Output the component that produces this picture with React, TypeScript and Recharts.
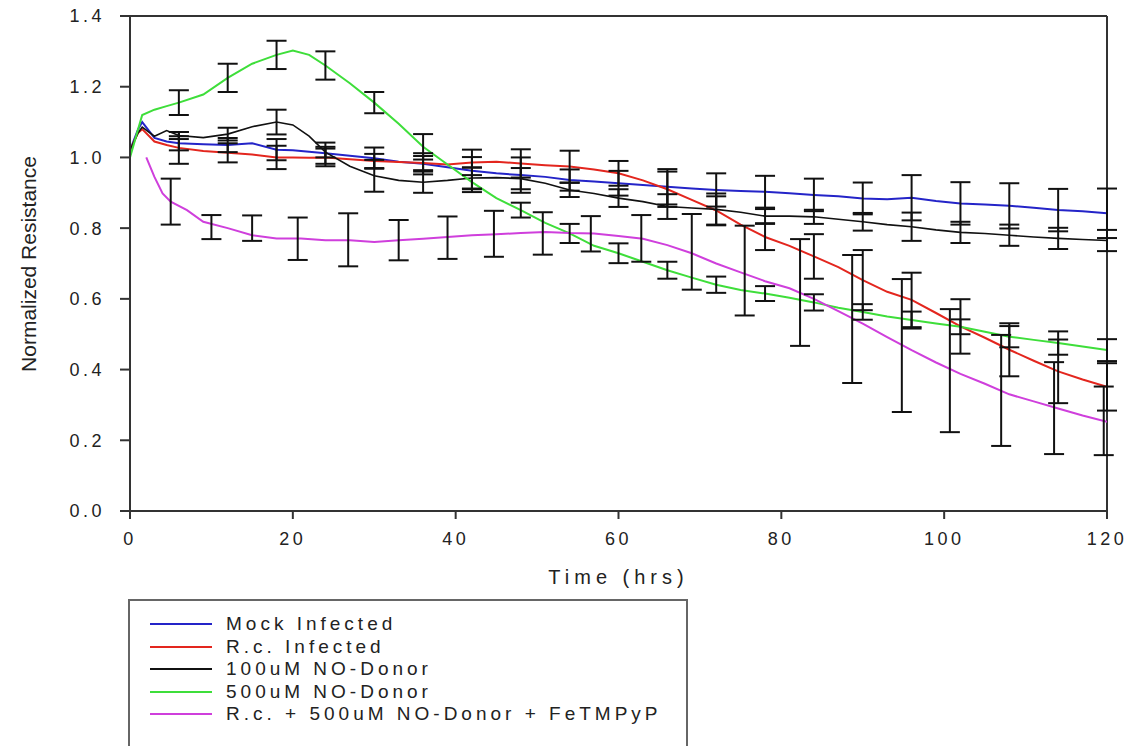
import { ComposedChart, Line, Scatter, ErrorBar, XAxis, YAxis, ReferenceLine, Label } from 'recharts';

const FONT = '"Liberation Sans", Arial, Helvetica, sans-serif';

// time grid (hrs) shared by the first four traces
const hours = [0, 1, 1.5, 3, 4.5, 6, 9, 12, 15, 18, 20, 22, 24, 27, 30, 33, 36, 39, 42, 45, 48, 51, 54, 57, 60,
  63, 66, 69, 72, 75, 78, 81, 84, 87, 90, 93, 96, 99, 102, 105, 108, 111, 114, 117, 120];

const mock = [1.02, 1.08, 1.1, 1.055, 1.045, 1.04, 1.037, 1.035, 1.04, 1.022, 1.02, 1.016, 1.012, 1.005, 0.998,
  0.988, 0.982, 0.972, 0.962, 0.955, 0.95, 0.945, 0.936, 0.932, 0.927, 0.922, 0.917, 0.912, 0.908, 0.905, 0.903,
  0.899, 0.894, 0.89, 0.884, 0.882, 0.886, 0.877, 0.87, 0.867, 0.863, 0.858, 0.851, 0.848, 0.842];

const rcInfected = [1.02, 1.07, 1.08, 1.045, 1.035, 1.027, 1.018, 1.013, 1.008, 1.0, 1.0, 0.999, 1.0, 0.995, 0.99,
  0.987, 0.984, 0.98, 0.986, 0.988, 0.983, 0.978, 0.974, 0.966, 0.955, 0.935, 0.91, 0.88, 0.85, 0.81, 0.775,
  0.75, 0.72, 0.69, 0.653, 0.62, 0.597, 0.56, 0.522, 0.49, 0.456, 0.425, 0.395, 0.372, 0.351];

const noDonor100 = [1.02, 1.07, 1.086, 1.06, 1.076, 1.062, 1.056, 1.066, 1.087, 1.1, 1.092, 1.06, 1.015, 0.975,
  0.948, 0.935, 0.93, 0.935, 0.942, 0.943, 0.94, 0.927, 0.908, 0.898, 0.885, 0.875, 0.861, 0.857, 0.853, 0.845,
  0.834, 0.834, 0.832, 0.825, 0.818, 0.81, 0.804, 0.795, 0.788, 0.785, 0.78, 0.775, 0.771, 0.768, 0.765];

const noDonor500 = [1.0, 1.08, 1.12, 1.135, 1.145, 1.155, 1.178, 1.225, 1.265, 1.29, 1.302, 1.29, 1.26, 1.21,
  1.155, 1.095, 1.03, 0.98, 0.93, 0.885, 0.851, 0.815, 0.785, 0.75, 0.729, 0.705, 0.681, 0.66, 0.64, 0.625,
  0.615, 0.603, 0.59, 0.575, 0.563, 0.55, 0.54, 0.53, 0.521, 0.507, 0.493, 0.484, 0.475, 0.465, 0.455];

// FeTMPyP trace starts a little later
const fetHours = [2, 3, 4, 5, 7, 9, 12, 15, 18, 21, 24, 27, 30, 33, 36, 39, 42, 45, 48, 51, 54, 57, 60, 63, 66,
  69, 72, 75, 78, 81, 84, 87, 90, 93, 96, 99, 102, 105, 108, 111, 114, 117, 120];
const fetmpyp = [1.0, 0.945, 0.898, 0.875, 0.851, 0.818, 0.8, 0.78, 0.771, 0.771, 0.766, 0.766, 0.761, 0.766,
  0.77, 0.775, 0.78, 0.783, 0.786, 0.789, 0.786, 0.785, 0.778, 0.77, 0.752, 0.729, 0.7, 0.675, 0.65, 0.63, 0.6,
  0.565, 0.53, 0.492, 0.455, 0.42, 0.388, 0.36, 0.33, 0.31, 0.29, 0.27, 0.252];

// error bars (± half-width)
const errHours = [6, 12, 18, 24, 30, 36, 42, 48, 54, 60, 66, 72, 78, 84, 90, 96, 102, 108, 114, 120];
const mockErr = [0.02, 0.02, 0.03, 0.03, 0.03, 0.03, 0.06, 0.05, 0.03, 0.035, 0.05, 0.047, 0.045, 0.046, 0.045,
  0.064, 0.06, 0.064, 0.06, 0.07];
const rcErr = [0.045, 0.027, 0.033, 0.025, 0.02, 0.02, 0.015, 0.04, 0.045, 0.035, 0.05, 0.04, 0.037, 0.063,
  0.085, 0.077, 0.077, 0.075, 0.09, 0.067];
const no100Err = [0.01, 0.018, 0.035, 0.015, 0.045, 0.03, 0.03, 0.03, 0.02, 0.025, 0.035, 0.045, 0.02, 0.02,
  0.025, 0.04, 0.03, 0.03, 0.03, 0.03];
const no500Err = [0.035, 0.04, 0.04, 0.04, 0.03, 0.036, 0.02, 0.021, 0.027, 0.028, 0.024, 0.023, 0.021, 0.023,
  0.022, 0.024, 0.021, 0.03, 0.033, 0.031];

const fetErrHours = [5, 10, 15, 20.6, 26.8, 33, 39, 44.7, 50.7, 56.6, 62.8, 69, 75.5, 82.3, 88.7, 94.8, 100.7,
  107, 113.5, 119.6];
const fetErrMean = [0.875, 0.803, 0.8, 0.77, 0.767, 0.766, 0.773, 0.784, 0.785, 0.784, 0.771, 0.733, 0.68, 0.618,
  0.543, 0.468, 0.397, 0.341, 0.291, 0.255];
const fetErr = [0.065, 0.034, 0.036, 0.06, 0.075, 0.057, 0.06, 0.065, 0.06, 0.05, 0.066, 0.107, 0.127, 0.151,
  0.181, 0.188, 0.174, 0.157, 0.13, 0.097];

const xTicks = [0, 20, 40, 60, 80, 100, 120];
const yTicks = [0, 0.2, 0.4, 0.6, 0.8, 1.0, 1.2, 1.4];

const names = ['Mock Infected', 'R.c. Infected', '100uM NO-Donor', '500uM NO-Donor', 'R.c. + 500uM NO-Donor + FeTMPyP'];
const colors = ['#2424c8', '#e3261e', '#111111', '#3ede3a', '#cf3fdc'];

const toLine = (t: number[], v: number[]) => t.map((h, i) => ({ t: h, v: v[i] }));
const toBars = (v: number[], e: number[]) =>
  errHours.map((h, i) => ({ t: h, v: v[hours.indexOf(h)], e: e[i] }));

const lines = [
  toLine(hours, mock),
  toLine(hours, rcInfected),
  toLine(hours, noDonor100),
  toLine(hours, noDonor500),
  toLine(fetHours, fetmpyp),
];

const bars = [
  toBars(mock, mockErr),
  toBars(rcInfected, rcErr),
  toBars(noDonor100, no100Err),
  toBars(noDonor500, no500Err),
  fetErrHours.map((h, i) => ({ t: h, v: fetErrMean[i], e: fetErr[i] })),
];

const tickStyle = { fontSize: 18, fill: '#222', fontFamily: FONT, letterSpacing: 3.5 };

const yTitle = () => (
  <text
    x={28}
    y={264}
    transform="rotate(-90 28 264)"
    textAnchor="middle"
    dominantBaseline="central"
    fontSize={21}
    fill="#222"
    fontFamily={FONT}
  >
    Normalized Resistance
  </text>
);

const noMark = () => <g />;

export default function App() {
  return (
    <div style={{ position: 'fixed', left: 0, top: 0, width: 1134, height: 746, overflow: 'hidden', background: '#fff' }}>
      <ComposedChart width={1134} height={746} margin={{ top: 16, right: 27, left: 60, bottom: 160 }}>
        <XAxis
          type="number"
          dataKey="t"
          domain={[0, 120]}
          ticks={xTicks}
          allowDataOverflow
          tick={tickStyle}
          tickSize={8}
          tickMargin={13}
          height={75}
          stroke="#333"
          strokeWidth={2}
        >
          <Label
            value="Time (hrs)"
            position="insideBottom"
            offset={2}
            style={{ fontSize: 20, fill: '#222', fontFamily: FONT, letterSpacing: 5 }}
          />
        </XAxis>
        <YAxis
          type="number"
          dataKey="v"
          domain={[0, 1.4]}
          ticks={yTicks}
          allowDataOverflow
          tickFormatter={(v: number) => v.toFixed(1)}
          tick={tickStyle}
          tickSize={10}
          tickMargin={15}
          width={70}
          stroke="#333"
          strokeWidth={2}
        >
          <Label content={yTitle} />
        </YAxis>
        <ReferenceLine y={1.4} stroke="#333" strokeWidth={2} />
        <ReferenceLine x={120} stroke="#333" strokeWidth={2} />

        {lines.map((d, i) => (
          <Line
            key={names[i]}
            data={d}
            dataKey="v"
            name={names[i]}
            type="linear"
            stroke={colors[i]}
            strokeWidth={i === 2 ? 1.6 : 2}
            dot={false}
            isAnimationActive={false}
          />
        ))}

        {bars.map((d, i) => (
          <Scatter
            key={'err-' + names[i]}
            data={d}
            dataKey="v"
            shape={noMark}
            isAnimationActive={false}
          >
            <ErrorBar dataKey="e" direction="y" width={10} stroke="#111" strokeWidth={2} isAnimationActive={false} />
          </Scatter>
        ))}
      </ComposedChart>

      <div
        style={{
          position: 'absolute',
          left: 128,
          top: 599,
          width: 560,
          height: 170,
          border: '2px solid #666',
          fontFamily: FONT,
          fontSize: 19,
          letterSpacing: 4,
          color: '#222',
          paddingTop: 12,
          boxSizing: 'border-box',
        }}
      >
        {names.map((n, i) => (
          <div key={n} style={{ display: 'flex', alignItems: 'center', height: 22.5 }}>
            <span style={{ marginLeft: 20, width: 62, height: 0, borderTop: `2px solid ${colors[i]}` }} />
            <span style={{ marginLeft: 14, whiteSpace: 'nowrap' }}>{n}</span>
          </div>
        ))}
      </div>
    </div>
  );
}
